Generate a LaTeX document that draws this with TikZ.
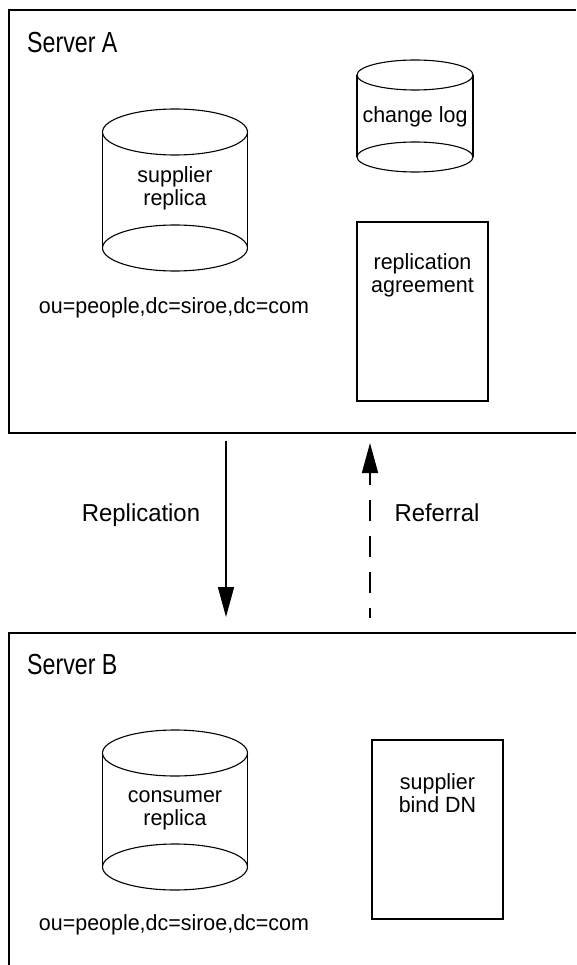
\documentclass[tikz,border=0pt]{standalone}
\usepackage{fontspec}
\setmainfont{Liberation Sans}
\newfontfamily\titlefont[FakeStretch=0.8]{Liberation Sans}
\newfontfamily\bodyfont[FakeStretch=0.975]{Liberation Sans}
\usetikzlibrary{positioning}
\usetikzlibrary{arrows.meta}
\tikzstyle{server}=[line width=1.6pt]
\tikzstyle{db}=[line width=1.1pt]
\tikzstyle{doc}=[draw,line width=1.6pt,minimum width=131pt,minimum height=179pt,inner sep=0pt]
\tikzstyle{title}=[anchor=west,inner sep=0pt,font=\titlefont\fontsize{29}{30}\selectfont]
\tikzstyle{txt}=[align=center,inner sep=0pt,font=\bodyfont\fontsize{22}{23}\selectfont]
\tikzstyle{lbl}=[inner sep=0pt,font=\bodyfont\fontsize{24.5}{25}\selectfont]
\tikzstyle{arrow}=[-{Triangle[length=30pt,width=16pt]},line width=1.6pt]

\begin{document}
\begin{tikzpicture}[x=1pt,y=-1pt]
		\useasboundingbox (0,0) rectangle (576,965);
		% server boxes, cut by the page edge
		\draw[server] (576,10)--(9,10)--(9,433)--(576,433);
		\draw[server] (576,633)--(9,633)--(9,965);
		\node[title] (titleA) at (27,43) {Server A};
		\node[title] (titleB) at (27,665) {Server B};
		% data stores
		\foreach \cx/\ya/\yb/\rx/\ry in {175/132/248/72.5/23, 415/75/157/58/15, 175/753/867/72.5/23} {
			\draw[db] (\cx-\rx,\ya)--(\cx-\rx,\yb) (\cx+\rx,\ya)--(\cx+\rx,\yb);
			\draw[db] (\cx,\ya) ellipse [x radius=\rx pt,y radius=\ry pt];
			\draw[db] (\cx,\yb) ellipse [x radius=\rx pt,y radius=\ry pt];}
		\node[txt] (suprep) at (175,188.5) {supplier\\replica};
		\node[txt] (chlog) at (415,117) {change log};
		\node[txt] (conrep) at (175,810) {consumer\\replica};
		\node[txt] (dnA) at (174,308) {ou=people,dc=siroe,dc=com};
		\node[txt] (dnB) at (174,925) {ou=people,dc=siroe,dc=com};
		% documents
		\node[doc] (agree) at (422.5,311.5) {};
		\node[txt] (agreetxt) at (422.5,275) {replication\\agreement};
		\node[doc] (binddn) at (437.5,829.5) {};
		\node[txt] (binddntxt) at (437.5,793.5) {supplier\\bind DN};
		% replication and referral
		\coordinate (repS) at (226,441);
		\coordinate (repE) at (226,617);
		\coordinate (refS) at (370,618);
		\coordinate (refE) at (370,443);
		\draw[arrow] (repS)--(repE);
		\draw[arrow,dash pattern=on 21pt off 15pt,dash phase=11pt] (refS)--(refE);
		\node[lbl] (replbl) at (141,515) {Replication};
		\node[lbl] (reflbl) at (437,513) {Referral};
	\end{tikzpicture}
\end{document}
